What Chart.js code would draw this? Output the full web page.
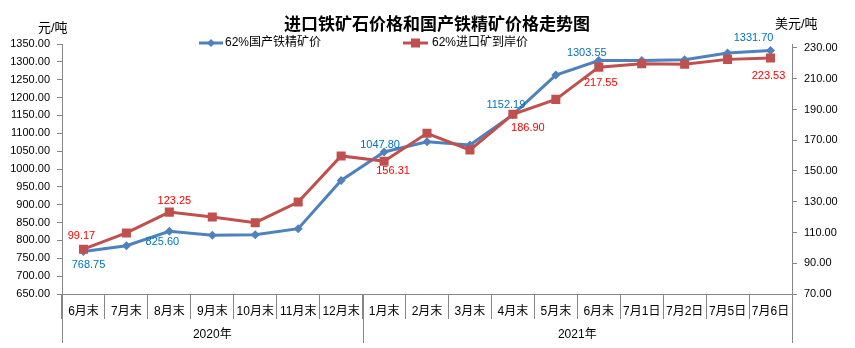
<!DOCTYPE html>
<html>
<head>
<meta charset="utf-8">
<script src="https://cdn.jsdelivr.net/npm/chart.js@4.4.1/dist/chart.umd.min.js"></script>
<style>
  html, body { margin: 0; padding: 0; background: #ffffff; }
  #wrap { width: 855px; height: 348px; }
</style>
</head>
<body>
<div id="wrap"><canvas id="c" width="855" height="348"></canvas></div>
<script>
// ---------- DATA ----------
const categories = ['6月末','7月末','8月末','9月末','10月末','11月末','12月末','1月末','2月末','3月末','4月末','5月末','6月末','7月1日','7月2日','7月5日','7月6日'];
const groupLabels = ['2020年', '2021年'];
const groupSizes = [7, 10];
const domesticName = '62%国产铁精矿价';
const importedName = '62%进口矿到岸价';
const domestic = [768.75, 785.2, 825.60, 814.3, 816.0, 832.8, 968.0, 1047.80, 1076.5, 1067.0, 1152.19, 1263.0, 1303.55, 1303.5, 1306.0, 1325.0, 1331.70];
const imported = [99.17, 109.7, 123.25, 120.1, 116.4, 129.8, 159.8, 156.31, 174.5, 163.7, 186.90, 196.6, 217.55, 219.8, 219.4, 222.6, 223.53];
const leftTicks = [650, 700, 750, 800, 850, 900, 950, 1000, 1050, 1100, 1150, 1200, 1250, 1300, 1350];
const rightTicks = [70, 90, 110, 130, 150, 170, 190, 210, 230];
const labeledIdx = [0, 2, 7, 10, 12, 16];
const titleText = '进口铁矿石价格和国产铁精矿价格走势图';
const leftUnit = '元/吨';
const rightUnit = '美元/吨';

// ---------- STYLE ----------
const BLUE = '#4F81BD', RED = '#C0504D';
const BLUE_TXT = '#0070C0', RED_TXT = '#FF0000';
const AXIS = '#868686';
const FONT = '"Liberation Sans", "Noto Sans CJK SC", sans-serif';
// label offsets (text centre relative to the point), per labelled index
const domesticOff = { 0: [5, 13], 2: [-7, 11], 7: [-4, -7], 10: [-7, -10], 12: [-12, -8], 16: [-17, -13] };
const importedOff = { 0: [-2, -13], 2: [5, -11], 7: [9, 10], 10: [15, 14], 12: [2, 16], 16: [-2, 18] };

const overlay = {
  id: 'overlay',
  afterDatasetsDraw(chart) {
    const ctx = chart.ctx, xs = chart.scales.x, ya = chart.scales.y, yb = chart.scales.y1;
    ctx.save();
    ctx.font = '11px ' + FONT;
    ctx.textAlign = 'center';
    ctx.textBaseline = 'middle';
    labeledIdx.forEach(i => {
      const px = xs.getPixelForValue(i);
      let o = domesticOff[i];
      ctx.fillStyle = BLUE_TXT;
      ctx.fillText(domestic[i].toFixed(2), px + o[0], ya.getPixelForValue(domestic[i]) + o[1]);
      o = importedOff[i];
      ctx.fillStyle = RED_TXT;
      ctx.fillText(imported[i].toFixed(2), px + o[0], yb.getPixelForValue(imported[i]) + o[1]);
    });
    ctx.restore();
  },
  afterDraw(chart) {
    const ctx = chart.ctx, xs = chart.scales.x, area = chart.chartArea;
    ctx.save();
    // title
    ctx.fillStyle = '#000';
    ctx.font = 'bold 17px "Noto Sans CJK SC", sans-serif';
    ctx.textAlign = 'center';
    ctx.textBaseline = 'middle';
    ctx.fillText(titleText, 437, 24);
    // axis unit titles
    ctx.font = '13px ' + FONT;
    ctx.textAlign = 'left';
    ctx.fillText(leftUnit, 38, 28);
    ctx.fillText(rightUnit, 775, 24);
    // legend
    const legendY = 43;
    ctx.lineWidth = 3;
    ctx.strokeStyle = BLUE;
    ctx.beginPath(); ctx.moveTo(199, legendY); ctx.lineTo(223, legendY); ctx.stroke();
    ctx.fillStyle = BLUE;
    ctx.beginPath(); ctx.moveTo(211 - 4, legendY); ctx.lineTo(211, legendY - 4); ctx.lineTo(211 + 4, legendY); ctx.lineTo(211, legendY + 4); ctx.closePath(); ctx.fill();
    ctx.strokeStyle = RED;
    ctx.beginPath(); ctx.moveTo(403, legendY); ctx.lineTo(428, legendY); ctx.stroke();
    ctx.fillStyle = RED;
    ctx.fillRect(411, legendY - 4.5, 9, 9);
    ctx.fillStyle = '#000';
    ctx.font = '12px ' + FONT;
    ctx.textBaseline = 'middle';
    ctx.fillText(domesticName, 225, legendY);
    ctx.fillText(importedName, 432, legendY);
    // category groups (second row)
    const half = (xs.getPixelForValue(1) - xs.getPixelForValue(0)) / 2;
    ctx.strokeStyle = AXIS;
    ctx.lineWidth = 1;
    let start = 0;
    const bounds = [];
    groupSizes.forEach(n => { bounds.push(start); start += n; });
    bounds.push(start);
    bounds.forEach(b => {
      const x = Math.round(xs.getPixelForValue(b) - half) + 0.5;
      ctx.beginPath(); ctx.moveTo(x, area.bottom); ctx.lineTo(x, 343); ctx.stroke();
    });
    ctx.font = '12px ' + FONT;
    ctx.textAlign = 'center';
    ctx.fillStyle = '#000';
    groupLabels.forEach((g, k) => {
      const a = xs.getPixelForValue(bounds[k]) - half;
      const b = xs.getPixelForValue(bounds[k + 1]) - half;
      ctx.fillText(g, (a + b) / 2, 335);
    });
    ctx.restore();
  }
};

new Chart(document.getElementById('c'), {
  type: 'line',
  data: {
    labels: categories,
    datasets: [
      {
        label: domesticName, data: domestic, yAxisID: 'y',
        borderColor: BLUE, backgroundColor: BLUE, borderWidth: 3,
        pointStyle: 'rectRot', pointRadius: 4.5, pointBorderWidth: 0,
        pointBackgroundColor: BLUE, tension: 0, order: 1
      },
      {
        label: importedName, data: imported, yAxisID: 'y1',
        borderColor: RED, backgroundColor: RED, borderWidth: 3,
        pointStyle: 'rect', pointRadius: 6.4, pointBorderWidth: 0,
        pointBackgroundColor: RED, tension: 0, order: 0
      }
    ]
  },
  options: {
    responsive: false,
    animation: false,
    devicePixelRatio: 1,
    layout: { padding: { top: 44, left: 0, right: 0, bottom: 0 } },
    plugins: { legend: { display: false }, title: { display: false }, tooltip: { enabled: false } },
    scales: {
      x: {
        offset: true,
        grid: { display: true, offset: true, drawOnChartArea: false, drawTicks: true, tickLength: 25, color: AXIS },
        border: { display: true, color: AXIS },
        ticks: { font: { size: 12, family: FONT }, color: '#000', padding: -15, maxRotation: 0, autoSkip: false },
        afterFit(s) { s.height = 54; }
      },
      y: {
        position: 'left', min: 650, max: 1350,
        grid: { display: true, drawOnChartArea: false, tickLength: 5, color: AXIS },
        border: { display: true, color: AXIS },
        afterBuildTicks(s) { s.ticks = leftTicks.map(v => ({ value: v })); },
        ticks: { font: { size: 11, family: FONT }, color: '#000', padding: 7, callback: v => Number(v).toFixed(2) },
        afterFit(s) { s.width = 62; }
      },
      y1: {
        position: 'right', min: 70, max: 232.6,
        grid: { display: true, drawOnChartArea: false, tickLength: 5, color: AXIS },
        border: { display: true, color: AXIS },
        afterBuildTicks(s) { s.ticks = rightTicks.map(v => ({ value: v })); },
        ticks: { font: { size: 11, family: FONT }, color: '#000', padding: 7, callback: v => Number(v).toFixed(2) },
        afterFit(s) { s.width = 63; }
      }
    }
  },
  plugins: [overlay]
});
</script>
</body>
</html>
